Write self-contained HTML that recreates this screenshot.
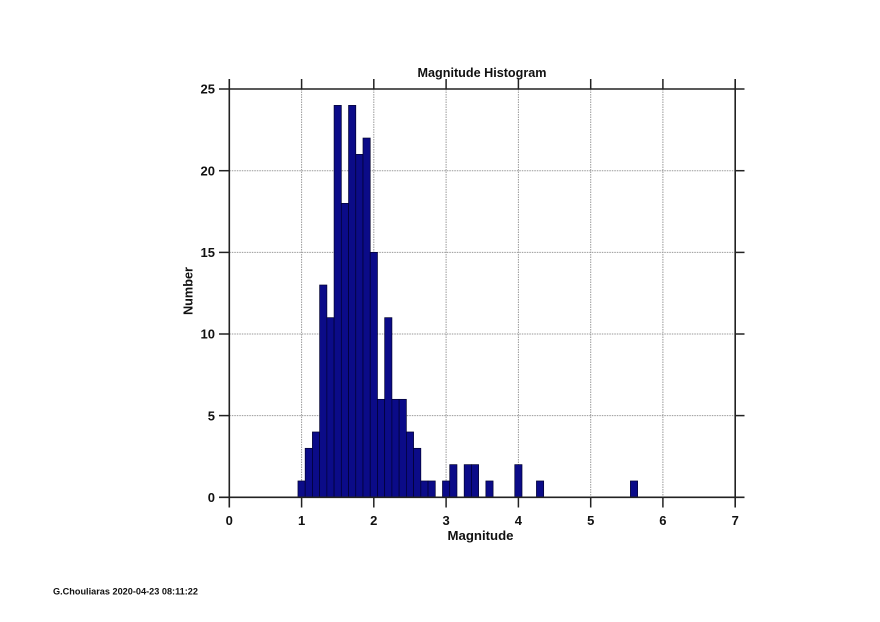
<!DOCTYPE html>
<html>
<head>
<meta charset="utf-8">
<style>
html,body{margin:0;padding:0;background:#fff;}
svg{display:block;}
text{font-family:"Liberation Sans",sans-serif;font-weight:bold;fill:#111;}
</style>
</head>
<body>
<svg width="880" height="622" viewBox="0 0 880 622" xmlns="http://www.w3.org/2000/svg">
<rect width="880" height="622" fill="#fff"/>
<!-- grid -->
<g stroke="#9a9a9a" stroke-width="1" stroke-dasharray="1.5,1">
<line x1="301.6" y1="89" x2="301.6" y2="497.3"/>
<line x1="373.8" y1="89" x2="373.8" y2="497.3"/>
<line x1="446.1" y1="89" x2="446.1" y2="497.3"/>
<line x1="518.4" y1="89" x2="518.4" y2="497.3"/>
<line x1="590.7" y1="89" x2="590.7" y2="497.3"/>
<line x1="662.9" y1="89" x2="662.9" y2="497.3"/>
<line x1="229.3" y1="415.6" x2="735.2" y2="415.6"/>
<line x1="229.3" y1="334.0" x2="735.2" y2="334.0"/>
<line x1="229.3" y1="252.4" x2="735.2" y2="252.4"/>
<line x1="229.3" y1="170.7" x2="735.2" y2="170.7"/>
</g>
<!-- bars -->
<g fill="#0b0b88" stroke="#000030" stroke-width="0.7">
<rect x="297.96" y="480.97" width="7.23" height="16.33"/>
<rect x="305.18" y="448.31" width="7.23" height="48.99"/>
<rect x="312.41" y="431.98" width="7.23" height="65.32"/>
<rect x="319.64" y="285.01" width="7.23" height="212.29"/>
<rect x="326.86" y="317.67" width="7.23" height="179.63"/>
<rect x="334.09" y="105.38" width="7.23" height="391.92"/>
<rect x="341.32" y="203.36" width="7.23" height="293.94"/>
<rect x="348.55" y="105.38" width="7.23" height="391.92"/>
<rect x="355.77" y="154.37" width="7.23" height="342.93"/>
<rect x="363.00" y="138.04" width="7.23" height="359.26"/>
<rect x="370.23" y="252.35" width="7.23" height="244.95"/>
<rect x="377.45" y="399.32" width="7.23" height="97.98"/>
<rect x="384.68" y="317.67" width="7.23" height="179.63"/>
<rect x="391.91" y="399.32" width="7.23" height="97.98"/>
<rect x="399.13" y="399.32" width="7.23" height="97.98"/>
<rect x="406.36" y="431.98" width="7.23" height="65.32"/>
<rect x="413.59" y="448.31" width="7.23" height="48.99"/>
<rect x="420.82" y="480.97" width="7.23" height="16.33"/>
<rect x="428.04" y="480.97" width="7.23" height="16.33"/>
<rect x="442.50" y="480.97" width="7.23" height="16.33"/>
<rect x="449.72" y="464.64" width="7.23" height="32.66"/>
<rect x="464.18" y="464.64" width="7.23" height="32.66"/>
<rect x="471.40" y="464.64" width="7.23" height="32.66"/>
<rect x="485.86" y="480.97" width="7.23" height="16.33"/>
<rect x="514.77" y="464.64" width="7.23" height="32.66"/>
<rect x="536.45" y="480.97" width="7.23" height="16.33"/>
<rect x="630.40" y="480.97" width="7.23" height="16.33"/>
</g>
<!-- axes frame -->
<g stroke="#222" stroke-width="1.6">
<line x1="219" y1="89" x2="744.5" y2="89"/>
<line x1="219" y1="497.3" x2="744.5" y2="497.3"/>
<line x1="229.3" y1="79" x2="229.3" y2="507.5"/>
<line x1="735.2" y1="79" x2="735.2" y2="507.5"/>
</g>
<!-- ticks -->
<g stroke="#222" stroke-width="1.5">
<line x1="301.6" y1="79" x2="301.6" y2="89"/>
<line x1="373.8" y1="79" x2="373.8" y2="89"/>
<line x1="446.1" y1="79" x2="446.1" y2="89"/>
<line x1="518.4" y1="79" x2="518.4" y2="89"/>
<line x1="590.7" y1="79" x2="590.7" y2="89"/>
<line x1="662.9" y1="79" x2="662.9" y2="89"/>
<line x1="301.6" y1="497.3" x2="301.6" y2="507.5"/>
<line x1="373.8" y1="497.3" x2="373.8" y2="507.5"/>
<line x1="446.1" y1="497.3" x2="446.1" y2="507.5"/>
<line x1="518.4" y1="497.3" x2="518.4" y2="507.5"/>
<line x1="590.7" y1="497.3" x2="590.7" y2="507.5"/>
<line x1="662.9" y1="497.3" x2="662.9" y2="507.5"/>
<line x1="219" y1="415.6" x2="229.3" y2="415.6"/>
<line x1="219" y1="334.0" x2="229.3" y2="334.0"/>
<line x1="219" y1="252.4" x2="229.3" y2="252.4"/>
<line x1="219" y1="170.7" x2="229.3" y2="170.7"/>
<line x1="735.2" y1="415.6" x2="744.5" y2="415.6"/>
<line x1="735.2" y1="334.0" x2="744.5" y2="334.0"/>
<line x1="735.2" y1="252.4" x2="744.5" y2="252.4"/>
<line x1="735.2" y1="170.7" x2="744.5" y2="170.7"/>
</g>
<!-- title -->
<text x="482" y="77" font-size="12.5" text-anchor="middle" textLength="129" lengthAdjust="spacingAndGlyphs">Magnitude Histogram</text>
<!-- x tick labels -->
<g font-size="13" text-anchor="middle">
<text x="229.3" y="525">0</text>
<text x="301.6" y="525">1</text>
<text x="373.8" y="525">2</text>
<text x="446.1" y="525">3</text>
<text x="518.4" y="525">4</text>
<text x="590.7" y="525">5</text>
<text x="662.9" y="525">6</text>
<text x="735.2" y="525">7</text>
</g>
<text x="480.5" y="540" font-size="13" text-anchor="middle" textLength="66" lengthAdjust="spacingAndGlyphs">Magnitude</text>
<!-- y tick labels -->
<g font-size="13" text-anchor="end">
<text x="215" y="502">0</text>
<text x="215" y="420.3">5</text>
<text x="215" y="338.7">10</text>
<text x="215" y="257">15</text>
<text x="215" y="175.4">20</text>
<text x="215" y="93.7">25</text>
</g>
<text transform="translate(192.5,291) rotate(-90)" font-size="13" text-anchor="middle" textLength="48" lengthAdjust="spacingAndGlyphs">Number</text>
<!-- footer -->
<text x="53" y="594.5" font-size="9" textLength="145" lengthAdjust="spacingAndGlyphs">G.Chouliaras 2020-04-23 08:11:22</text>
</svg>
</body>
</html>
